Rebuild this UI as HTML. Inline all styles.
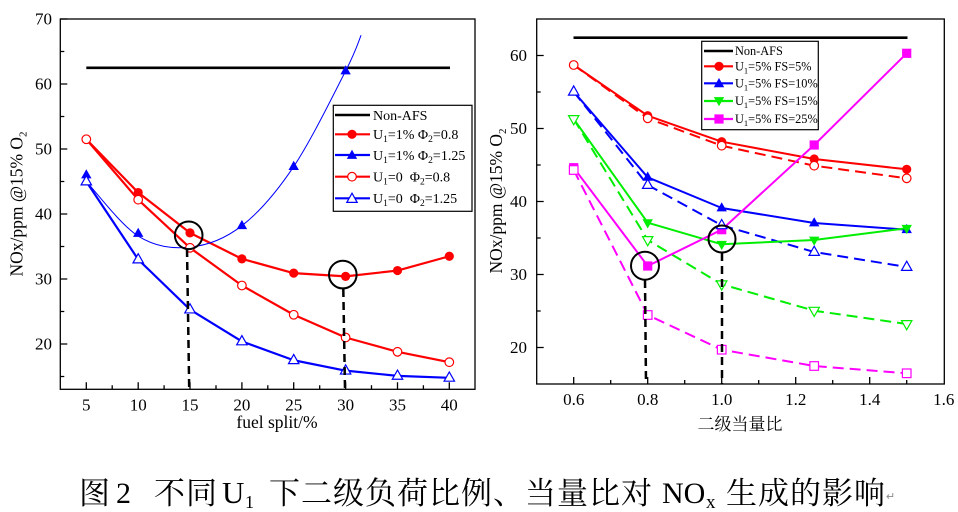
<!DOCTYPE html>
<html><head><meta charset="utf-8"><style>
html,body{margin:0;padding:0;background:#fff;}
svg{display:block;}
text{font-family:"Liberation Serif","Noto Serif CJK SC",serif;}
.cjk{font-family:"Liberation Serif","Noto Serif CJK SC",serif;}
</style></head><body>
<svg width="958" height="512" viewBox="0 0 958 512" xmlns="http://www.w3.org/2000/svg">
<defs>
<circle id="rf" r="4.6" fill="#ff0000"/>
<circle id="ro" r="4.3" fill="#fff" stroke="#ff0000" stroke-width="1.2"/>
<polygon id="bf" points="0,-5.8 5.2,3.4 -5.2,3.4" fill="#0000ff"/>
<polygon id="bo" points="0,-5.8 5.2,3.4 -5.2,3.4" fill="#fff" stroke="#0000ff" stroke-width="1.2"/>
<polygon id="gf" points="0,5.8 5.2,-3.4 -5.2,-3.4" fill="#00ee00"/>
<polygon id="go" points="0,5.8 5.2,-3.4 -5.2,-3.4" fill="#fff" stroke="#00ee00" stroke-width="1.2"/>
<rect id="mf" x="-4.6" y="-4.6" width="9.2" height="9.2" fill="#ff00ff"/>
<rect id="mo" x="-4.3" y="-4.3" width="8.6" height="8.6" fill="#fff" stroke="#ff00ff" stroke-width="1.2"/>
</defs>
<rect width="958" height="512" fill="#fff"/>

<!-- ================= LEFT CHART ================= -->
<g fill="none" stroke="#000" stroke-width="1.3">
<rect x="60.3" y="19" width="414.7" height="370.3"/>
<path d="M60.3 19h7M60.3 84h7M60.3 149h7M60.3 214h7M60.3 279h7M60.3 344h7
M60.3 51.5h4M60.3 116.5h4M60.3 181.5h4M60.3 246.5h4M60.3 311.5h4M60.3 376.5h4"/>
<path d="M86.3 389.3v-7M138.2 389.3v-7M190 389.3v-7M241.9 389.3v-7M293.7 389.3v-7M345.6 389.3v-7M397.5 389.3v-7M449.3 389.3v-7
M112.2 389.3v-4M164.1 389.3v-4M216 389.3v-4M267.8 389.3v-4M319.7 389.3v-4M371.5 389.3v-4M423.4 389.3v-4"/>
</g>
<g font-size="17" fill="#000" text-anchor="end">
<text x="52" y="24.5">70</text><text x="52" y="89.5">60</text><text x="52" y="154.5">50</text>
<text x="52" y="219.5">40</text><text x="52" y="284.5">30</text><text x="52" y="349.5">20</text>
</g>
<g font-size="17" fill="#000" text-anchor="middle">
<text x="86.3" y="410.5">5</text><text x="138.2" y="410.5">10</text><text x="190" y="410.5">15</text>
<text x="241.9" y="410.5">20</text><text x="293.7" y="410.5">25</text><text x="345.6" y="410.5">30</text>
<text x="397.5" y="410.5">35</text><text x="449.3" y="410.5">40</text>
</g>
<text x="277" y="428" font-size="17.5" text-anchor="middle">fuel split/%</text>
<text transform="translate(22.5,204) rotate(-90)" font-size="17.5" text-anchor="middle">NOx/ppm @15% O<tspan font-size="11" dy="4">2</tspan></text>

<line x1="86.3" y1="67.8" x2="450" y2="67.8" stroke="#000" stroke-width="2.6"/>
<g fill="none" stroke-width="2.2" stroke-linejoin="round">
<polyline stroke="#ff0000" points="86.3,139.25 138.2,192.55 190,232.85 241.9,258.85 293.7,273.15 345.6,276.4 397.5,270.55 449.3,256.25"/>
<polyline stroke="#ff0000" points="86.3,139.25 138.2,199.7 190,247.8 241.9,285.5 293.7,314.75 345.6,337.5 397.5,351.8 449.3,362.2"/>
<polyline stroke="#0000ff" points="86.3,181.5 138.2,259.5 190,309.55 241.9,341.4 293.7,360.25 345.6,370.65 397.5,375.85 449.3,377.8"/>
</g>
<path fill="none" stroke="#0000ff" stroke-width="1" d="M86.3,181.5 C94.95,190.6 120.92,225.16 138.2,236.1 C155.48,247.04 172.72,248.88 190,247.15 C207.28,245.42 224.62,239.13 241.9,225.7 C259.18,212.27 276.42,192.33 293.7,166.55 C310.98,140.77 334.37,92.88 345.6,71 C356.83,49.12 358.52,41.21 361.1,35.25"/>
<g>
<use href="#rf" x="86.3" y="139.25"/><use href="#rf" x="138.2" y="192.55"/><use href="#rf" x="190" y="232.85"/><use href="#rf" x="241.9" y="258.85"/><use href="#rf" x="293.7" y="273.15"/><use href="#rf" x="345.6" y="276.4"/><use href="#rf" x="397.5" y="270.55"/><use href="#rf" x="449.3" y="256.25"/>
<use href="#bf" x="86.3" y="175"/><use href="#bf" x="138.2" y="233.5"/><use href="#bf" x="241.9" y="225.7"/><use href="#bf" x="293.7" y="166.55"/><use href="#bf" x="345.6" y="71"/>
<use href="#ro" x="86.3" y="139.25"/><use href="#ro" x="138.2" y="199.7"/><use href="#ro" x="190" y="247.8"/><use href="#ro" x="241.9" y="285.5"/><use href="#ro" x="293.7" y="314.75"/><use href="#ro" x="345.6" y="337.5"/><use href="#ro" x="397.5" y="351.8"/><use href="#ro" x="449.3" y="362.2"/>
<use href="#bo" x="86.3" y="181.5"/><use href="#bo" x="138.2" y="259.5"/><use href="#bo" x="190" y="309.55"/><use href="#bo" x="241.9" y="341.4"/><use href="#bo" x="293.7" y="360.25"/><use href="#bo" x="345.6" y="370.65"/><use href="#bo" x="397.5" y="375.85"/><use href="#bo" x="449.3" y="377.8"/>
</g>
<g fill="none" stroke="#000" stroke-width="2">
<circle cx="188.7" cy="235.3" r="13.8"/>
<circle cx="342.8" cy="274.6" r="13.8"/>
</g>
<g stroke="#000" stroke-width="2.5" stroke-dasharray="8,5">
<line x1="187" y1="249" x2="189.2" y2="389"/>
<line x1="343.3" y1="289" x2="345" y2="389"/>
</g>
<rect x="333.3" y="105.3" width="138.7" height="106" fill="#fff" stroke="#000" stroke-width="1.2"/>
<g stroke-width="2.2">
<line x1="335" y1="115" x2="370" y2="115" stroke="#000" stroke-width="2.6"/>
<line x1="335" y1="134.3" x2="370" y2="134.3" stroke="#ff0000"/>
<line x1="335" y1="155" x2="370" y2="155" stroke="#0000ff"/>
<line x1="335" y1="176.7" x2="370" y2="176.7" stroke="#ff0000"/>
<line x1="335" y1="198.3" x2="370" y2="198.3" stroke="#0000ff"/>
</g>
<use href="#rf" x="352" y="134.3"/><use href="#bf" x="352" y="155.5"/><use href="#ro" x="352" y="176.7"/><use href="#bo" x="352" y="199"/>
<g font-size="14" fill="#000">
<text x="373" y="119.8">Non-AFS</text>
<text x="373" y="139">U<tspan font-size="9.5" dy="3">1</tspan><tspan dy="-3">=1% Φ</tspan><tspan font-size="9.5" dy="3">2</tspan><tspan dy="-3">=0.8</tspan></text>
<text x="373" y="159.8">U<tspan font-size="9.5" dy="3">1</tspan><tspan dy="-3">=1% Φ</tspan><tspan font-size="9.5" dy="3">2</tspan><tspan dy="-3">=1.25</tspan></text>
<text x="373" y="181.5" xml:space="preserve">U<tspan font-size="9.5" dy="3">1</tspan><tspan dy="-3">=0  Φ</tspan><tspan font-size="9.5" dy="3">2</tspan><tspan dy="-3">=0.8</tspan></text>
<text x="373" y="203" xml:space="preserve">U<tspan font-size="9.5" dy="3">1</tspan><tspan dy="-3">=0  Φ</tspan><tspan font-size="9.5" dy="3">2</tspan><tspan dy="-3">=1.25</tspan></text>
</g>

<!-- ================= RIGHT CHART ================= -->
<g fill="none" stroke="#000" stroke-width="1.3">
<rect x="536.7" y="19" width="407.6" height="365"/>
<path d="M536.7 55.5h7M536.7 128.5h7M536.7 201.5h7M536.7 274.5h7M536.7 347.5h7
M536.7 92h4M536.7 165h4M536.7 238h4M536.7 311h4"/>
<path d="M573.7 384v-7M647.7 384v-7M721.7 384v-7M795.7 384v-7M869.7 384v-7
M610.7 384v-4M684.7 384v-4M758.7 384v-4M832.7 384v-4M906.7 384v-4"/>
</g>
<g font-size="17" fill="#000" text-anchor="end">
<text x="527" y="61">60</text><text x="527" y="134">50</text><text x="527" y="207">40</text>
<text x="527" y="280">30</text><text x="527" y="353">20</text>
</g>
<g font-size="17" fill="#000" text-anchor="middle">
<text x="573.7" y="405">0.6</text><text x="647.7" y="405">0.8</text><text x="721.7" y="405">1.0</text>
<text x="795.7" y="405">1.2</text><text x="869.7" y="405">1.4</text><text x="943.7" y="405">1.6</text>
</g>
<text class="cjk" x="740" y="430" font-size="17" text-anchor="middle">二级当量比</text>
<text transform="translate(502,201) rotate(-90)" font-size="17.5" text-anchor="middle">NOx/ppm @15% O<tspan font-size="11" dy="4">2</tspan></text>

<line x1="573.5" y1="37.7" x2="907.5" y2="37.7" stroke="#000" stroke-width="2.6"/>
<g fill="none" stroke-width="2" stroke-dasharray="11,6" stroke-linejoin="round">
<polyline stroke="#ff0000" points="573.7,65 647.7,118.3 721.7,145.7 814.2,165.7 906.7,178.3"/>
<polyline stroke="#0000ff" points="573.7,91.7 647.7,185 721.7,225.3 814.2,252 906.7,267"/>
<polyline stroke="#00ee00" points="573.7,119 647.7,240 721.7,284.3 814.2,310.7 906.7,324"/>
<polyline stroke="#ff00ff" points="573.7,170 647.7,315 721.7,349.7 814.2,366 906.7,373.3"/>
</g>
<g fill="none" stroke-width="2" stroke-linejoin="round">
<polyline stroke="#ff0000" points="573.7,65 647.7,115.7 721.7,141.7 814.2,159 906.7,169.3"/>
<polyline stroke="#0000ff" points="573.7,91.7 647.7,177.3 721.7,208 814.2,223 906.7,229.7"/>
<polyline stroke="#00ee00" points="573.7,119 647.7,222.7 721.7,244.3 814.2,240 906.7,228.3"/>
<polyline stroke="#ff00ff" points="573.7,167.7 647.7,266 721.7,229.7 814.2,145 906.7,53.3"/>
</g>
<g>
<use href="#rf" x="647.7" y="115.7"/><use href="#rf" x="721.7" y="141.7"/><use href="#rf" x="814.2" y="159"/><use href="#rf" x="906.7" y="169.3"/>
<use href="#bf" x="647.7" y="177.3"/><use href="#bf" x="721.7" y="208"/><use href="#bf" x="814.2" y="223"/><use href="#bf" x="906.7" y="229.7"/>
<use href="#gf" x="647.7" y="222.7"/><use href="#gf" x="721.7" y="244.3"/><use href="#gf" x="814.2" y="240"/><use href="#gf" x="906.7" y="228.3"/>
<use href="#mf" x="573.7" y="167.7"/><use href="#mf" x="647.7" y="266"/><use href="#mf" x="721.7" y="229.7"/><use href="#mf" x="814.2" y="145"/><use href="#mf" x="906.7" y="53.3"/>
<use href="#ro" x="573.7" y="65"/><use href="#ro" x="647.7" y="118.3"/><use href="#ro" x="721.7" y="145.7"/><use href="#ro" x="814.2" y="165.7"/><use href="#ro" x="906.7" y="178.3"/>
<use href="#bo" x="573.7" y="91.7"/><use href="#bo" x="647.7" y="185"/><use href="#bo" x="721.7" y="225.3"/><use href="#bo" x="814.2" y="252"/><use href="#bo" x="906.7" y="267"/>
<use href="#go" x="573.7" y="119"/><use href="#go" x="647.7" y="240"/><use href="#go" x="721.7" y="284.3"/><use href="#go" x="814.2" y="310.7"/><use href="#go" x="906.7" y="324"/>
<use href="#mo" x="573.7" y="170"/><use href="#mo" x="647.7" y="315"/><use href="#mo" x="721.7" y="349.7"/><use href="#mo" x="814.2" y="366"/><use href="#mo" x="906.7" y="373.3"/>
</g>
<g fill="none" stroke="#000" stroke-width="2">
<circle cx="645" cy="265.7" r="14"/>
<circle cx="722" cy="239" r="13.5"/>
</g>
<g stroke="#000" stroke-width="2.5" stroke-dasharray="8,5">
<line x1="645" y1="280" x2="646" y2="384"/>
<line x1="722" y1="253" x2="722" y2="384"/>
</g>
<rect x="701.7" y="41.3" width="116.6" height="88.4" fill="#fff" stroke="#000" stroke-width="1.2"/>
<g stroke-width="2.2">
<line x1="704" y1="51" x2="733" y2="51" stroke="#000" stroke-width="2.6"/>
<line x1="704" y1="66.3" x2="733" y2="66.3" stroke="#ff0000"/>
<line x1="704" y1="83.3" x2="733" y2="83.3" stroke="#0000ff"/>
<line x1="704" y1="101" x2="733" y2="101" stroke="#00ee00"/>
<line x1="704" y1="119" x2="733" y2="119" stroke="#ff00ff"/>
</g>
<use href="#rf" x="719" y="66.3"/><use href="#bf" x="719" y="83.8"/><use href="#gf" x="719" y="100.5"/><use href="#mf" x="719" y="119"/>
<g font-size="12.3" fill="#000">
<text x="735" y="55.2">Non-AFS</text>
<text x="735" y="70.5">U<tspan font-size="8.5" dy="3">1</tspan><tspan dy="-3">=5% FS=5%</tspan></text>
<text x="735" y="87.5">U<tspan font-size="8.5" dy="3">1</tspan><tspan dy="-3">=5% FS=10%</tspan></text>
<text x="735" y="105.2">U<tspan font-size="8.5" dy="3">1</tspan><tspan dy="-3">=5% FS=15%</tspan></text>
<text x="735" y="123.2">U<tspan font-size="8.5" dy="3">1</tspan><tspan dy="-3">=5% FS=25%</tspan></text>
</g>

<!-- ================= CAPTION ================= -->
<g fill="#000">
<text class="cjk" x="79" y="504" font-size="31">图</text>
<text x="116" y="503" font-size="30">2</text>
<text class="cjk" x="154" y="504" font-size="31" letter-spacing="1">不同</text>
<text x="222" y="503" font-size="31">U</text>
<text x="245" y="508" font-size="18">1</text>
<text class="cjk" x="269" y="504" font-size="31" letter-spacing="1">下二级负荷比例、当量比对</text>
<text x="662" y="503" font-size="30">NO</text>
<text x="706" y="508" font-size="19">x</text>
<text class="cjk" x="726" y="504" font-size="31" letter-spacing="1">生成的影响</text>
<text x="886" y="500" font-size="11" fill="#888" font-family="DejaVu Sans, sans-serif">↵</text>
</g>
</svg>
</body></html>
